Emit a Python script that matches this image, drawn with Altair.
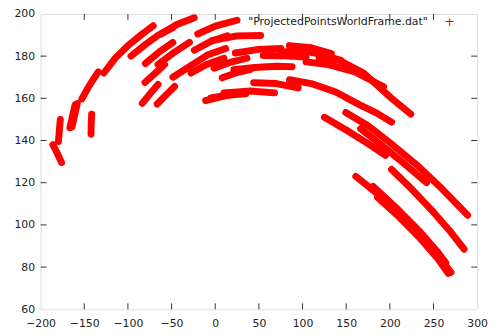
import altair as alt
import pandas as pd

# Arcs of projected points: each arc is a list of (x, y) points
LEFT_ARCS = [
    [(-186, 138), (-182, 134.9), (-176, 129.5)],
    [(-179.6, 139.5), (-178.5, 145), (-177.4, 150)],
    [(-166.5, 146), (-163.5, 151.5), (-160.5, 157)],
    [(-164, 146.5), (-161, 152), (-158, 157.5)],
    [(-142.3, 143), (-142, 148), (-141.5, 152.5)],
    [(-152.8, 159.7), (-144.6, 165.8), (-134, 172.5)],
    [(-127.5, 172), (-114, 179.3), (-99.3, 185.2), (-85, 190), (-71, 194.4)],
    [(-96.5, 180), (-80, 185.5), (-65, 190), (-48.5, 193.5)],
    [(-62, 190.5), (-44, 195), (-24, 198.2)],
    [(-80, 176.5), (-64, 182), (-48.5, 186.5)],
    [(-65.5, 176), (-47, 181.8), (-29.5, 186.5)],
    [(-80.5, 167.5), (-69, 171.8), (-58, 176)],
    [(-83.5, 157.6), (-74.5, 162.2), (-65.5, 166.6)],
    [(-66.5, 157.3), (-56.5, 161.5), (-46.5, 165.6)],
]

MIDDLE_ARCS = [
    [(-48.5, 170), (-28, 175.5), (-9, 180.5), (12, 183.6)],
    [(-20, 190.5), (0, 194.2), (25, 197)],
    [(-24, 182.8), (-5, 187), (14, 189.6)],
    [(-3, 187.5), (25, 189.6), (52, 189.8)],
    [(-27.7, 172), (-10, 176), (10, 179)],
    [(-1.3, 174.3), (18, 177.2), (36.4, 179)],
    [(23, 181.5), (50, 183.2), (75, 183.6)],
    [(55, 180.3), (80, 180.2), (104, 179.6)],
    [(8, 169.7), (25, 172.2), (40, 173.6)],
    [(21.4, 173.6), (45, 174.6), (70, 175.2), (88, 175)],
    [(44, 167.4), (70, 167), (95, 165)],
    [(-11, 158.9), (5, 160.6), (21.4, 162)],
    [(-5, 160.2), (15, 161.6), (35, 162.2)],
    [(10, 162.5), (40, 163.5), (68, 162.6)],
]

RIGHT_ARCS = [
    [(76, 182), (100, 182.5), (120, 181), (144, 178)],
    [(85, 185), (110, 184), (133, 181.2)],
    [(104, 177.3), (130, 176), (160, 172.5), (193, 165.5)],
    [(119, 179), (142, 178), (170, 172), (202, 160), (224, 152.5)],
    [(85, 168.8), (110, 167), (138, 163), (165, 157), (185, 153), (202, 148.7)],
    [(125, 151), (150, 145), (175, 138.5), (195, 133)],
    [(149.5, 153.3), (175, 147), (200, 139), (232, 128), (260, 117), (289, 104.6)],
    [(166.5, 145.6), (190, 138), (215, 129.5), (242, 120)],
    [(202, 126.3), (225, 117), (250, 106), (270, 96.5), (285, 88.5)],
    [(161, 123), (185, 115), (210, 105.5), (235, 95), (255, 85.5), (270, 77.5)],
    [(181, 118.2), (210, 107), (235, 96.5), (255, 87), (264, 82)],
    [(186, 113), (210, 104), (235, 93.5), (255, 84), (267, 77)],
]

X_TICKS = [-200, -150, -100, -50, 0, 50, 100, 150, 200, 250, 300]
Y_TICKS = [60, 80, 100, 120, 140, 160, 180, 200]
LEGEND_LABEL = '"ProjectedPointsWorldFrame.dat"'

W, H = 442, 299
TICK = 6

rows = []
for seg_id, seg in enumerate(LEFT_ARCS + MIDDLE_ARCS + RIGHT_ARCS):
    for i, (x, y) in enumerate(seg):
        rows.append({"seg": seg_id, "i": i, "x": x, "y": y})
df = pd.DataFrame(rows)

xscale = alt.Scale(domain=[X_TICKS[0], X_TICKS[-1]], nice=False, zero=False)
yscale = alt.Scale(domain=[Y_TICKS[0], Y_TICKS[-1]], nice=False, zero=False)

xaxis = alt.Axis(values=X_TICKS, title=None, grid=False, domain=False, tickSize=0,
                 labelPadding=8, labelFont="DejaVu Sans", labelFontSize=11,
                 labelColor="#222", labelFlush=False)
yaxis = alt.Axis(values=Y_TICKS, title=None, grid=False, domain=False, tickSize=0,
                 labelPadding=6, labelFont="DejaVu Sans", labelFontSize=11,
                 labelColor="#222", labelFlush=False)

points = alt.Chart(df).mark_line(color="#ff0000", strokeWidth=7, strokeCap="round",
                                 strokeJoin="round").encode(
    x=alt.X("x:Q", scale=xscale, axis=xaxis),
    y=alt.Y("y:Q", scale=yscale, axis=yaxis),
    detail="seg:N",
    order="i:O",
)

xt = pd.DataFrame({"x": X_TICKS[1:-1]})
yt = pd.DataFrame({"y": Y_TICKS[1:-1]})
tick_color = "#333"

bottom_ticks = alt.Chart(xt).mark_rule(color=tick_color, strokeWidth=1).encode(
    x=alt.X("x:Q", scale=xscale, axis=xaxis), y=alt.value(H), y2=alt.value(H - TICK))
top_ticks = alt.Chart(xt).mark_rule(color=tick_color, strokeWidth=1).encode(
    x=alt.X("x:Q", scale=xscale, axis=xaxis), y=alt.value(0), y2=alt.value(TICK))
left_ticks = alt.Chart(yt).mark_rule(color=tick_color, strokeWidth=1).encode(
    y=alt.Y("y:Q", scale=yscale, axis=yaxis), x=alt.value(0), x2=alt.value(TICK))
right_ticks = alt.Chart(yt).mark_rule(color=tick_color, strokeWidth=1).encode(
    y=alt.Y("y:Q", scale=yscale, axis=yaxis), x=alt.value(W), x2=alt.value(W - TICK))

legend_df = pd.DataFrame({"label": [LEGEND_LABEL], "sym": ["+"]})
legend_text = alt.Chart(legend_df).mark_text(
    align="right", baseline="middle", font="DejaVu Sans", fontSize=11, color="#222"
).encode(text="label:N", x=alt.value(392), y=alt.value(8))
legend_sym = alt.Chart(legend_df).mark_text(
    align="center", baseline="middle", font="DejaVu Sans", fontSize=13, color="#ff0000"
).encode(text="sym:N", x=alt.value(414), y=alt.value(8))

chart = alt.layer(
    points, bottom_ticks, top_ticks, left_ticks, right_ticks, legend_text, legend_sym
).properties(
    width=W, height=H,
    autosize=alt.AutoSizeParams(type="none"),
    padding={"left": 33, "top": 4, "right": 14, "bottom": 22},
).configure_view(stroke="#333", strokeWidth=1).configure(background="white")

chart.save("out.html", embed_options={"renderer": "svg", "actions": False})
